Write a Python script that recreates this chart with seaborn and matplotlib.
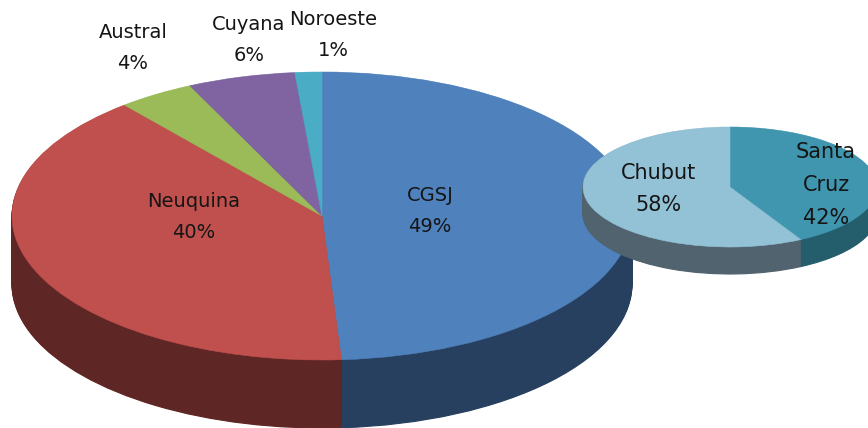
import matplotlib
matplotlib.use("Agg")
import matplotlib.pyplot as plt
import seaborn as sns

# main pie (slice sizes, labels are the rounded ones)
cuencas = ["CGSJ", "Neuquina", "Austral", "Cuyana", "Noroeste"]
shares = [49, 40, 4, 5.6, 1.4]
share_labels = [49, 40, 4, 6, 1]

# second pie
prov_names = ["Santa\nCruz", "Chubut"]
prov_shares = [42, 58]

main_top = ["#4f81bd", "#c0504d", "#9bbb59", "#8064a2", "#4bacc6"]
main_wall = ["#27405f", "#5e2624", "#4d5d2c", "#403251", "#255663"]
prov_top = ["#3f96ae", "#93c1d6"]
prov_wall = ["#245e6c", "#50636e"]

W, H = 868, 428

sns.set_theme(style="white")
plt.rcParams["font.family"] = ["DejaVu Sans"]

fig = plt.figure(figsize=(W / 100, H / 100), dpi=100)


def draw_pie(ax, values, colors, center, lw):
    wedges, _ = ax.pie(values, colors=colors, startangle=90, counterclock=False,
                       center=center, radius=1)
    for w in wedges:
        w.set_edgecolor(w.get_facecolor())
        w.set_linewidth(lw)


def disc(values, top, wall, cx, cy, rx, ry, depth, z):
    # axes in pixels so that the unit circle of the pie comes out as an ellipse
    ax = fig.add_axes([(cx - rx) / W, 1 - (cy + ry + depth) / H,
                       2 * rx / W, (2 * ry + depth) / H], zorder=z)
    ax.patch.set_alpha(0)
    # wall = same pie stacked downward
    for k in range(depth, 0, -1):
        draw_pie(ax, values, wall, (0, -k / ry), 0.8)
    draw_pie(ax, values, top, (0, 0), 0.4)
    ax.set_aspect("auto")
    ax.set_xlim(-1, 1)
    ax.set_ylim(-1 - depth / ry, 1)
    return ax


disc(shares, main_top, main_wall, 322, 216, 310, 144, 68, 1)
disc(prov_shares, prov_top, prov_wall, 730, 187, 147, 60, 27, 2)

# label centres in pixels
main_pos = [(430, 211), (194, 217), (133, 48), (249, 40), (333, 35)]
prov_pos = [(826, 185), (658, 189)]


def label(x, y, s, size):
    fig.text(x / W, 1 - y / H, s, ha="center", va="center", fontsize=size,
             color="#151515", linespacing=1.8, zorder=5)


for name, val, (x, y) in zip(cuencas, share_labels, main_pos):
    label(x, y, f"{name}\n{val}%", 14)
for name, val, (x, y) in zip(prov_names, prov_shares, prov_pos):
    label(x, y, f"{name}\n{val}%", 15)

fig.savefig("out.png", dpi=100)
